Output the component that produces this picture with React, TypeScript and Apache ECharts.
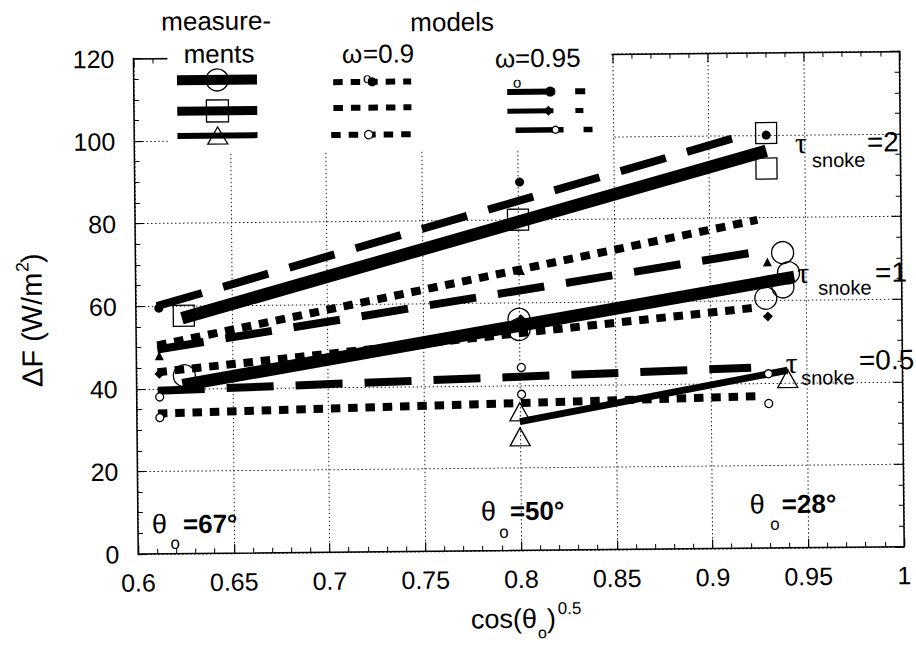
import React, { useEffect, useRef } from "react";
import * as echarts from "echarts";

// ---------- data ----------
const xRange = [0.6, 1.0];
const yRange = [0, 120];
const xStep = 0.05;
const yStep = 20;

// model points (three solar zenith angles)
const modelX = [0.612, 0.801, 0.93];
const w95Tau2Pts = [59.5, 89.2, 100.0]; // filled circles
const w95Tau1Pts = [48.0, 67.8, 69.3]; // filled triangles
const w90Tau1Pts = [43.6, 56.0, 56.1]; // filled diamonds
const w95Tau05Pts = [38.0, 44.3, 42.2]; // small open circles
const w90Tau05Pts = [33.0, 37.8, 35.0]; // small open circles

// model fit lines
const w90Tau2X = [0.611, 0.925];
const w90Tau2Y = [50.5, 79.5];
const w90Tau1X = [0.611, 0.925];
const w90Tau1Y = [44.0, 58.3];
const w90Tau05X = [0.611, 0.925];
const w90Tau05Y = [34.0, 36.8];
const w95Tau2X = [0.611, 0.922];
const w95Tau2Y = [60.0, 100.5];
const w95Tau1X = [0.611, 0.921];
const w95Tau1Y = [49.5, 71.5];
const w95Tau05X = [0.611, 0.921];
const w95Tau05Y = [39.5, 43.7];

// measurements
const measSquareX = [0.625, 0.8, 0.93, 0.93];
const measSquareY = [57.6, 80.1, 100.5, 91.9];
const measCircleX = [0.625, 0.8, 0.8, 0.929, 0.938, 0.941, 0.938];
const measCircleY = [43.1, 56.0, 53.5, 60.5, 63.2, 66.6, 71.5];
const measTriX = [0.8, 0.8, 0.94];
const measTriY = [33.6, 27.5, 41.0];

// measurement fit lines
const measTau2X = [0.624, 0.93];
const measTau2Y = [57.0, 96.2];
const measTau1X = [0.624, 0.944];
const measTau1Y = [40.8, 65.6];
const measTau05X = [0.8, 0.94];
const measTau05Y = [31.2, 43.0];

const FONT = '"Liberation Sans", Arial, Helvetica, sans-serif';
const SERIF = '"Liberation Serif", "DejaVu Serif", serif';

const zip = (xs: number[], ys: number[]) => xs.map((x, i) => [x, ys[i]]);

const fmt = (v: number) => String(parseFloat(v.toFixed(2)));

function lineSeries(xs: number[], ys: number[], width: number, type: any) {
  return {
    type: "line",
    data: zip(xs, ys),
    symbol: "none",
    silent: true,
    lineStyle: { color: "#000", width, type, cap: "butt" },
    z: 3,
  };
}

function scatterSeries(
  data: number[][],
  symbol: string,
  size: any,
  fill: string,
  border = 0
) {
  return {
    type: "scatter",
    data,
    symbol,
    symbolSize: size,
    silent: true,
    itemStyle: {
      color: fill,
      borderColor: "#000",
      borderWidth: border,
      opacity: 1,
    },
    z: 5,
  };
}

function txt(
  x: number,
  y: number,
  text: string,
  size: number,
  extra: any = {},
  align = "left"
) {
  return {
    type: "text",
    x,
    y,
    z: 100,
    rotation: extra.rotation || 0,
    style: {
      text,
      fontSize: size,
      fontFamily: extra.family || FONT,
      fontWeight: extra.weight || "normal",
      fill: "#000",
      textAlign: align,
      align,
      textVerticalAlign: "middle",
      verticalAlign: "middle",
    },
  };
}

function hline(x1: number, x2: number, y: number, w: number, dash?: number[]) {
  return {
    type: "line",
    z: 100,
    shape: { x1, y1: y, x2, y2: y },
    style: { stroke: "#000", lineWidth: w, lineDash: dash || null, lineCap: "butt" },
  };
}

function circ(cx: number, cy: number, r: number, fill: string, lw = 1.3) {
  return {
    type: "circle",
    z: 100,
    shape: { cx, cy, r },
    style: { fill, stroke: "#000", lineWidth: lw },
  };
}

export default function App() {
  const ref = useRef<HTMLDivElement>(null);

  useEffect(() => {
    if (!ref.current) return;
    const chart = echarts.init(ref.current, undefined, { renderer: "svg" });

    const dotted = [9.5, 7.8];
    const dashed = [47, 22];

    const axisCommon = {
      type: "value",
      axisLine: { show: true, onZero: false, lineStyle: { color: "#000", width: 1.5 } },
      axisTick: { show: true, inside: true, length: 9, lineStyle: { color: "#000", width: 1.2 } },
    };

    const option: any = {
      animation: false,
      backgroundColor: "#fff",
      grid: { left: 136, top: 55.5, width: 766, height: 495.5 },
      xAxis: [
        {
          ...axisCommon,
          position: "bottom",
          min: xRange[0],
          max: xRange[1],
          interval: xStep,
          minorTick: { show: true, splitNumber: 5, length: 5, lineStyle: { color: "#000", width: 1 } },
          splitLine: { show: true, lineStyle: { color: "#222", width: 1, type: [1.5, 2.5] } },
          axisLabel: { show: true, fontSize: 25, color: "#000", fontFamily: FONT, margin: 16, formatter: fmt },
        },
        {
          ...axisCommon,
          position: "top",
          min: xRange[0],
          max: xRange[1],
          interval: xStep,
          minorTick: { show: true, splitNumber: 5, length: 5, lineStyle: { color: "#000", width: 1 } },
          splitLine: { show: false },
          axisLabel: { show: false },
        },
      ],
      yAxis: [
        {
          ...axisCommon,
          position: "left",
          min: yRange[0],
          max: yRange[1],
          interval: yStep,
          minorTick: { show: true, splitNumber: 4, length: 5, lineStyle: { color: "#000", width: 1 } },
          splitLine: { show: true, lineStyle: { color: "#222", width: 1, type: [1.5, 2.5] } },
          axisLabel: { show: true, fontSize: 25, color: "#000", fontFamily: FONT, margin: 19 },
        },
        {
          ...axisCommon,
          position: "right",
          min: yRange[0],
          max: yRange[1],
          interval: yStep,
          minorTick: { show: true, splitNumber: 4, length: 5, lineStyle: { color: "#000", width: 1 } },
          splitLine: { show: false },
          axisLabel: { show: false },
        },
      ],
      series: [
        lineSeries(w90Tau2X, w90Tau2Y, 8, dotted),
        lineSeries(w90Tau1X, w90Tau1Y, 8, dotted),
        lineSeries(w90Tau05X, w90Tau05Y, 8, dotted),
        lineSeries(w95Tau2X, w95Tau2Y, 8, dashed),
        lineSeries(w95Tau1X, w95Tau1Y, 8, dashed),
        lineSeries(w95Tau05X, w95Tau05Y, 8, dashed),
        lineSeries(measTau2X, measTau2Y, 12.5, "solid"),
        lineSeries(measTau1X, measTau1Y, 12.5, "solid"),
        lineSeries(measTau05X, measTau05Y, 7, "solid"),
        scatterSeries(zip(measSquareX, measSquareY), "rect", 21, "rgba(0,0,0,0)", 1.3),
        scatterSeries(zip(measCircleX, measCircleY), "circle", 22, "rgba(0,0,0,0)", 1.3),
        scatterSeries(zip(measTriX, measTriY), "triangle", [20, 18], "rgba(0,0,0,0)", 1.3),
        scatterSeries(zip(modelX, w95Tau2Pts), "circle", 9, "#000"),
        scatterSeries(zip(modelX, w95Tau1Pts), "triangle", 9, "#000"),
        scatterSeries(zip(modelX, w90Tau1Pts), "diamond", 10, "#000"),
        scatterSeries(zip(modelX, w95Tau05Pts), "circle", 8, "#fff", 1.3),
        scatterSeries(zip(modelX, w90Tau05Pts), "circle", 8, "#fff", 1.3),
      ],
      graphic: [
        // legend background (covers the frame and grid)
        { type: "rect", z: 90, shape: { x: 170, y: 38, width: 444, height: 112.5 }, style: { fill: "#fff" } },
        txt(219, 18.6, "measure-", 26, {}, "center"),
        txt(221.6, 51.5, "ments", 26, {}, "center"),
        txt(455, 21.9, "models", 26, {}, "center"),
        // measurement legend rows
        hline(179.3, 259.3, 77.6, 10),
        circ(219.5, 77.6, 11, "none"),
        hline(179.3, 259.3, 108.6, 9),
        { type: "rect", z: 100, shape: { x: 208.5, y: 97.6, width: 22, height: 22 }, style: { fill: "none", stroke: "#000", lineWidth: 1.3 } },
        hline(179.3, 259.3, 133.2, 6),
        { type: "polygon", z: 100, shape: { points: [[209.5, 141.7], [229.5, 141.7], [219.5, 124.7]] }, style: { fill: "none", stroke: "#000", lineWidth: 1.3 } },
        // omega 0.9
        txt(344.5, 52.9, "ω", 26),
        txt(365.5, 52.9, "=0.9", 26),
        txt(369.5, 76.8, "o", 15, {}, "center"),
        hline(335.5, 413.5, 81, 6, [9.5, 8]),
        circ(374.5, 81, 4.5, "#000", 0),
        hline(335.5, 413.5, 106.8, 6, [9.5, 8]),
        hline(333, 413, 133.8, 6, [9.5, 8]),
        circ(370.5, 133.8, 4.2, "#fff"),
        // omega 0.95
        txt(497.4, 58.8, "ω", 26),
        txt(517.4, 58.8, "=0.95", 26),
        txt(519.4, 82.8, "o", 15, {}, "center"),
        hline(509.4, 557.4, 92.5, 6),
        hline(577.4, 587.4, 92.5, 6),
        circ(552.4, 92.5, 5, "#000", 0),
        hline(509.4, 555.4, 111.7, 5),
        hline(577.4, 585.4, 111.7, 5),
        { type: "polygon", z: 100, shape: { points: [[550.4, 106.7], [555.4, 111.7], [550.4, 116.7], [545.4, 111.7]] }, style: { fill: "#000" } },
        hline(517.4, 565.4, 130.7, 5.5),
        hline(585.4, 594.4, 130.7, 5.5),
        circ(557.4, 130.7, 3.5, "#fff"),
        // tau labels
        txt(796.6, 145.8, "τ", 30, { family: SERIF }),
        txt(813.6, 163.6, "snoke", 20),
        txt(868.6, 146, "=2", 28),
        txt(797.5, 275.7, "τ", 30, { family: SERIF }),
        txt(818.4, 291.3, "snoke", 20),
        txt(875.4, 276.4, "=1", 28),
        txt(785.3, 365.6, "τ", 30, { family: SERIF }),
        txt(800.6, 381.1, "snoke", 20),
        txt(858.5, 364, "=0.5", 28),
        // solar zenith labels
        txt(150, 521.4, "θ", 27),
        txt(173, 540.5, "o", 17, {}, "center"),
        txt(181, 521.4, "=67°", 26, { weight: "bold" }),
        txt(479, 511.6, "θ", 27),
        txt(502, 532.7, "o", 17, {}, "center"),
        txt(508, 511.6, "=50°", 26, { weight: "bold" }),
        txt(748, 507.2, "θ", 27),
        txt(773, 527.3, "o", 17, {}, "center"),
        txt(780, 507.2, "=28°", 26, { weight: "bold" }),
        // x axis title
        txt(468, 619.5, "cos(θ", 27),
        txt(539.5, 633.5, "o", 16, {}, "center"),
        txt(544, 619.5, ")", 27),
        txt(555, 609.5, "0.5", 17),
        // y axis title
        txt(32, 383, "ΔF (W/m", 29, { rotation: Math.PI / 2 }),
        txt(23, 268, "2", 18, { rotation: Math.PI / 2 }),
        txt(32, 259, ")", 29, { rotation: Math.PI / 2 }),
      ],
    };

    chart.setOption(option);
    return () => chart.dispose();
  }, []);

  return (
    <div
      ref={ref}
      style={{
        position: "absolute",
        left: 0,
        top: 0,
        width: 916,
        height: 646,
        background: "#fff",
        transform: "rotate(-0.55deg)",
      }}
    />
  );
}
